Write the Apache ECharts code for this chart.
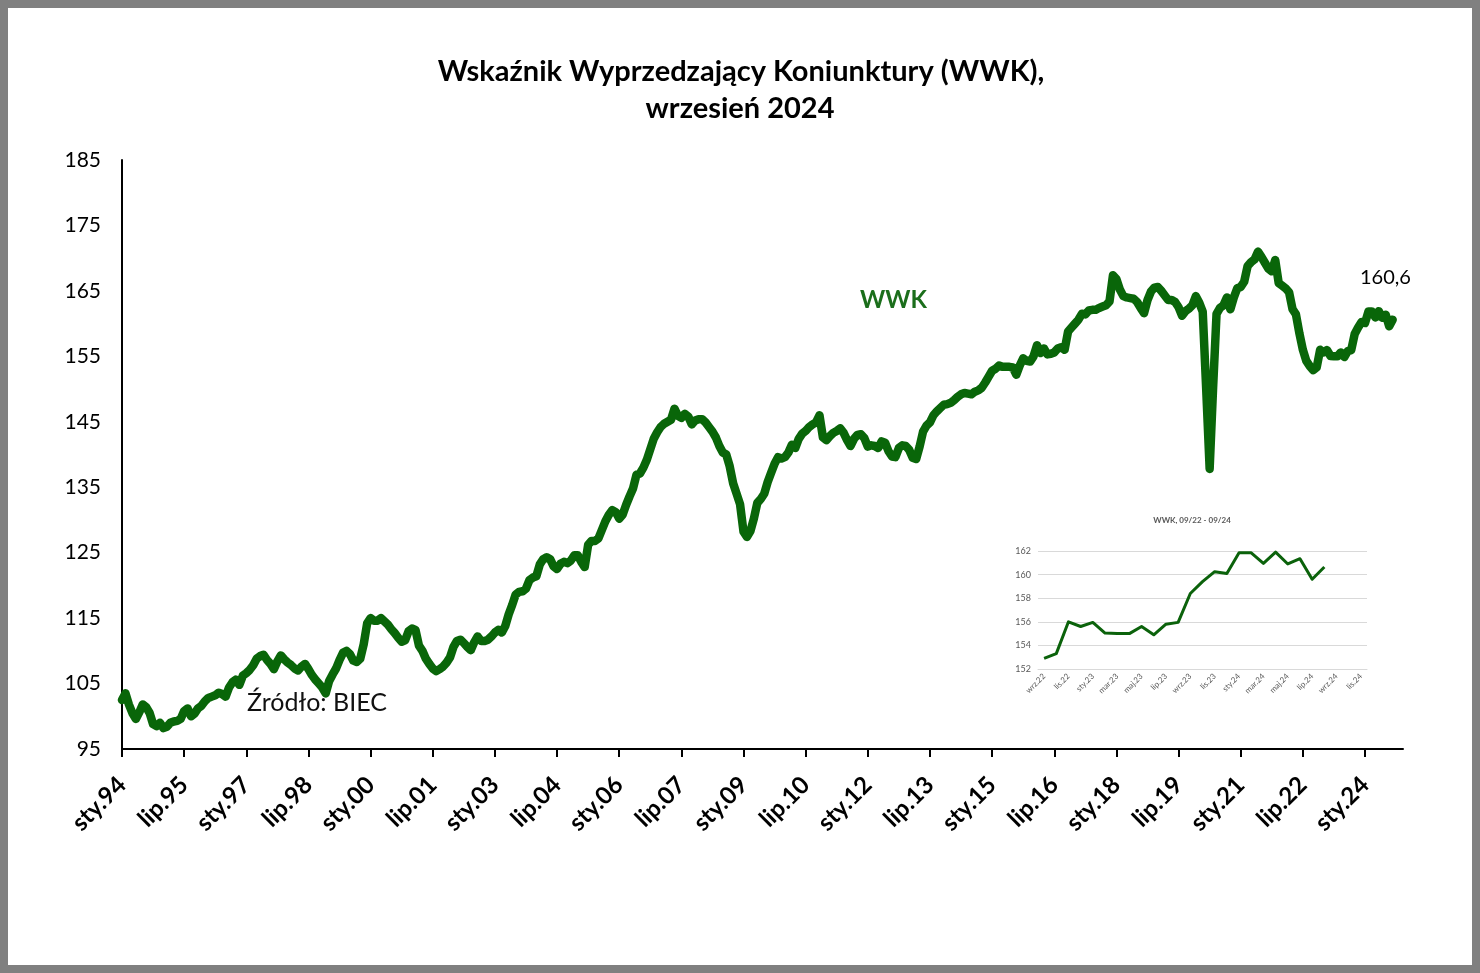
<!DOCTYPE html>
<html><head><meta charset="utf-8">
<script src="https://cdn.jsdelivr.net/npm/echarts@6/dist/echarts.min.js"></script>
<style>
html,body{margin:0;padding:0;background:#fff}
#c{width:1480px;height:973px}
#f{position:absolute;left:0;top:0;width:1480px;height:973px;box-sizing:border-box;border:8px solid #808080;pointer-events:none}
</style>
</head><body><div id="c"></div><div id="f"></div>
<script>
// Monthly WWK values, Jan 1994 .. Sep 2024
const wwk1994_1999 = [
  102.5,103.5,101.8,100.5,99.6,100.6,101.8,101.4,100.5,98.8,98.5,99.0,
  98.2,98.4,99.0,99.2,99.3,99.6,100.8,101.2,100.0,100.4,101.2,101.6,
  102.3,102.8,103.0,103.2,103.6,103.4,103.0,104.4,105.2,105.6,104.8,106.2,
  106.6,107.1,107.8,108.8,109.2,109.4,108.6,108.0,107.2,108.4,109.3,108.7,
  108.2,107.8,107.3,107.0,107.6,108.0,107.2,106.3,105.6,105.0,104.4,103.5,
  105.4,106.4,107.3,108.6,109.7,110.0,109.5,108.5,108.3,108.8,111.0,114.2
];
const wwk2000_2009 = [
  115.0,114.6,114.6,115.0,114.5,114.0,113.3,112.7,112.0,111.4,111.6,113.0,
  113.4,113.2,110.8,110.0,108.8,108.0,107.3,106.9,107.2,107.6,108.2,109.0,
  110.6,111.5,111.7,111.2,110.6,110.1,111.3,112.2,111.5,111.5,111.7,112.2,
  112.8,113.2,112.8,113.8,115.6,117.0,118.6,119.0,119.1,119.5,120.8,121.2,
  121.4,123.2,124.0,124.3,124.0,122.9,122.5,123.3,123.6,123.4,123.8,124.6,
  124.6,123.6,122.8,126.2,126.8,126.8,127.2,128.5,129.8,130.8,131.5,131.2,
  130.2,130.8,132.3,133.6,134.8,136.9,137.1,138.0,139.2,140.8,142.4,143.4,
  144.2,144.7,145.0,145.3,147.0,145.9,145.6,146.2,145.8,144.6,145.2,145.4,
  145.4,144.9,144.2,143.5,142.6,141.3,140.3,140.0,138.2,135.6,134.0,132.4,
  128.2,127.4,128.3,130.2,132.6,133.2,134.0,135.8,137.2,138.6,139.6,139.4
];
const wwk2010_2019 = [
  139.6,140.3,141.5,141.0,142.4,143.2,143.6,144.2,144.6,144.9,146.0,142.6,
  142.2,142.8,143.3,143.6,144.0,143.3,142.2,141.3,142.4,143.0,143.1,142.5,
  141.2,141.4,141.3,141.0,142.0,141.8,140.5,139.7,139.6,141.0,141.4,141.3,
  140.7,139.5,139.3,141.2,143.5,144.4,144.9,146.0,146.6,147.1,147.6,147.7,
  147.9,148.3,148.8,149.2,149.4,149.3,149.2,149.6,149.8,150.2,151.0,151.9,
  152.8,153.1,153.6,153.4,153.4,153.4,153.3,152.2,153.6,154.7,154.3,154.2,
  155.0,156.7,155.5,156.2,155.3,155.4,155.6,156.2,156.4,156.0,158.8,159.4,
  160.0,160.6,161.5,161.4,162.0,162.1,162.1,162.4,162.6,162.8,163.4,167.4,
  166.8,165.2,164.2,164.0,163.9,163.8,163.3,162.4,161.6,163.6,164.9,165.5,
  165.6,165.0,164.3,163.6,163.6,163.3,162.5,161.2,161.9,162.3,162.8,164.2
];
const wwk2020_2024 = [
  163.2,161.8,150.0,137.8,150.2,161.5,162.4,162.8,164.0,162.2,164.0,165.4,
  165.6,166.4,168.8,169.4,169.8,171.0,170.2,169.3,168.4,168.0,169.7,166.2,
  165.8,165.4,164.8,162.2,161.4,158.5,156.0,154.3,153.5,152.9,153.3,156.0,
  155.6,155.95,155.05,155.0,155.0,155.6,154.9,155.8,155.95,158.4,159.4,160.25,
  160.1,161.85,161.85,160.95,161.9,160.9,161.35,159.6,160.6
];
// Inset values as drawn (24 points)
const insetValues = [152.9,153.3,156.0,155.6,155.95,155.05,155.0,155.0,155.6,154.9,155.8,155.95,
  158.4,159.4,160.25,160.1,161.85,161.85,160.95,161.9,160.9,161.35,159.6,160.65];

const monthNames = ['sty','lut','mar','kwi','maj','cze','lip','sie','wrz','paź','lis','gru'];
const yTicks = {min:95, max:185, step:10};
const insetTicks = {min:152, max:162, step:2};

function monthLabels(startYear, startMonth, count){
  const out=[];
  for(let i=0;i<count;i++){
    const t=startMonth+i; const y=startYear+Math.floor(t/12); const m=t%12;
    out.push(monthNames[m]+'.'+String(y%100).padStart(2,'0'));
  }
  return out;
}
const mainCats = monthLabels(1994,0,372);
const insetCats = monthLabels(2022,8,27);
const mainValues = [].concat(wwk1994_1999, wwk2000_2009, wwk2010_2019, wwk2020_2024);

const chart = echarts.init(document.getElementById('c'), null, {renderer:'canvas'});
const F = 'Lato, "Open Sans", sans-serif';
chart.setOption({
  animation:false,
  backgroundColor:'#fff',
  grid:[
    {left:122, top:160, width:1281, height:589},
    {left:1038, top:551, width:329, height:118}
  ],
  xAxis:[
    {type:'category', gridIndex:0, data:mainCats, boundaryGap:false,
     axisLine:{lineStyle:{color:'#000', width:2}},
     axisTick:{interval:17, length:8, lineStyle:{color:'#000', width:2}},
     axisLabel:{interval:17, rotate:45, margin:32, fontSize:24, fontWeight:'bold', fontFamily:F, color:'#000'},
     splitLine:{show:false}},
    {type:'category', gridIndex:1, data:insetCats, boundaryGap:true,
     axisLine:{lineStyle:{color:'#d9d9d9', width:1}},
     axisTick:{interval:1, length:5, lineStyle:{color:'#d9d9d9'}},
     axisLabel:{interval:1, rotate:45, margin:6, fontSize:8, fontFamily:F, color:'#595959'},
     splitLine:{show:false}}
  ],
  yAxis:[
    {type:'value', gridIndex:0, min:yTicks.min, max:yTicks.max, interval:yTicks.step,
     axisLine:{show:true, lineStyle:{color:'#000', width:2}},
     axisTick:{show:false},
     axisLabel:{fontSize:21, fontFamily:F, color:'#000', margin:21},
     splitLine:{show:false}},
    {type:'value', gridIndex:1, min:insetTicks.min, max:insetTicks.max, interval:insetTicks.step,
     axisLine:{show:false}, axisTick:{show:false},
     axisLabel:{fontSize:9, fontFamily:F, color:'#595959', margin:7},
     splitLine:{show:true, lineStyle:{color:'#d9d9d9', width:1}}}
  ],
  series:[
    {type:'line', xAxisIndex:0, yAxisIndex:0, data:mainValues, showSymbol:false, symbol:'none',
     lineStyle:{color:'#096609', width:8.5, join:'round', cap:'round'}, z:3},
    {type:'line', xAxisIndex:1, yAxisIndex:1, data:insetValues, showSymbol:false, symbol:'none',
     lineStyle:{color:'#0b620b', width:3, join:'round'}, z:3}
  ],
  graphic:[
    {type:'text', x:741, y:72, style:{text:'Wskaźnik Wyprzedzający Koniunktury (WWK),', font:'bold 29px '+F, fill:'#000', textAlign:'center', textVerticalAlign:'middle'}},
    {type:'text', x:740, y:109, style:{text:'wrzesień 2024', font:'bold 29px '+F, fill:'#000', textAlign:'center', textVerticalAlign:'middle'}},
    {type:'text', x:860, y:300, style:{text:'WWK', font:'bold 24px '+F, fill:'#1b6e1b', textVerticalAlign:'middle'}},
    {type:'text', x:1360, y:278, style:{text:'160,6', font:'20px '+F, fill:'#000', textVerticalAlign:'middle'}},
    {type:'text', x:247, y:703, style:{text:'Źródło: BIEC', font:'25px '+F, fill:'#111', textVerticalAlign:'middle'}},
    {type:'text', x:1192, y:520, style:{text:'WWK, 09/22 - 09/24', font:'bold 8px '+F, fill:'#595959', textAlign:'center', textVerticalAlign:'middle'}}
  ]
});
</script></body></html>
